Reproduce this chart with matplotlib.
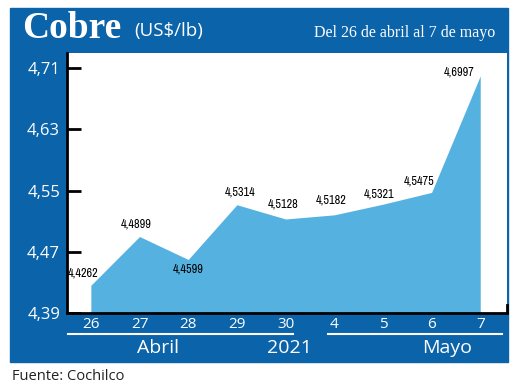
import matplotlib.pyplot as plt
import matplotlib.transforms as mtransforms
from matplotlib import font_manager
from matplotlib.patches import Rectangle

# Data
days = ["26", "27", "28", "29", "30", "4", "5", "6", "7"]
prices = [4.4262, 4.4899, 4.4599, 4.5314, 4.5128, 4.5182, 4.5321, 4.5475, 4.6997]
labels = ["4,4262", "4,4899", "4,4599", "4,5314", "4,5128", "4,5182", "4,5321", "4,5475", "4,6997"]
yticks = [4.39, 4.47, 4.55, 4.63, 4.71]
ytick_labels = ["4,39", "4,47", "4,55", "4,63", "4,71"]

blue = "#0b63a9"
fill = "#55b1e0"
W, H = 520, 388

# condensed font for the value labels, if there is one
names = sorted({f.name for f in font_manager.fontManager.ttflist})
narrow = [n for n in names if "Narrow" in n or "Condensed" in n]
lab_family = narrow[:1] + ["Liberation Sans", "DejaVu Sans"]

fig = plt.figure(figsize=(W / 100, H / 100), dpi=100)
fig.patch.set_facecolor("white")
fig.patches.append(Rectangle((10 / W, 1 - 362 / H), 498 / W, 354 / H,
                             transform=fig.transFigure, color=blue, zorder=-10))

ax = fig.add_axes([67 / W, 1 - 313 / H, 440 / W, 260 / H])
ax.set_facecolor("white")
x = list(range(len(days)))
ax.fill_between(x, yticks[0], prices, color=fill, lw=0)
ax.set_xlim(-0.49, 8.55)
ax.set_ylim(4.39, 4.7296)

for s in ["top", "right"]:
    ax.spines[s].set_visible(False)
for s in ["left", "bottom"]:
    ax.spines[s].set_linewidth(2)
    ax.spines[s].set_color("black")
ax.axvline(8.55, ymax=0.03, color="black", lw=2, clip_on=False)

ax.set_yticks(yticks)
ax.set_yticklabels(ytick_labels)
ax.tick_params(axis="y", direction="in", length=10, width=2, color="black",
               labelcolor="white", labelsize=12, pad=5)
ax.set_xticks(x)
ax.set_xticklabels(days)
ax.tick_params(axis="x", length=0, labelcolor="white", labelsize=11, pad=3)
for t in ax.get_xticklabels() + ax.get_yticklabels():
    t.set_family(["Open Sans", "DejaVu Sans"])

# value labels
offsets = [(-7, 12), (-3, 12), (0, -9), (3, 12), (-2, 14), (-3, 14), (-4, 10), (-12, 11), (-20, 4)]
for xi, yi, lab, (dx, dy) in zip(x, prices, labels, offsets):
    ax.annotate(lab, (xi, yi), xytext=(dx * 0.75, dy * 0.75), textcoords="offset points",
                ha="center", va="center", fontsize=8.8, fontweight="bold",
                family=lab_family, color="black")

# month lines and labels
tr = mtransforms.blended_transform_factory(ax.transData, ax.transAxes)
ax.plot([-0.47, 4.15], [-0.081, -0.081], color="white", lw=1.5, transform=tr, clip_on=False)
ax.plot([4.87, 8.44], [-0.081, -0.081], color="white", lw=1.5, transform=tr, clip_on=False)
for xm, txt in [(1.38, "Abril"), (4.09, "2021"), (7.31, "Mayo")]:
    ax.text(xm, -0.135, txt, transform=tr, ha="center", va="center", color="white",
            fontsize=14, family=["Open Sans", "DejaVu Sans"])

# header
fig.text(22 / W, 1 - 29 / H, "Cobre", color="white", fontsize=27, fontweight="bold",
         family=["Liberation Serif", "DejaVu Serif"], va="center", ha="left")
fig.text(134 / W, 1 - 31 / H, "(US$/lb)", color="white", fontsize=13.5,
         family=["Open Sans", "DejaVu Sans"], va="center", ha="left")
fig.text(495 / W, 1 - 33 / H, "Del 26 de abril al 7 de mayo", color="white", fontsize=11.5,
         family=["Liberation Serif", "DejaVu Serif"], va="center", ha="right")
fig.text(12 / W, 1 - 376 / H, "Fuente: Cochilco", color="#222222", fontsize=10.5,
         family=["Open Sans", "DejaVu Sans"], va="center", ha="left")

fig.savefig("out.png", dpi=100)
